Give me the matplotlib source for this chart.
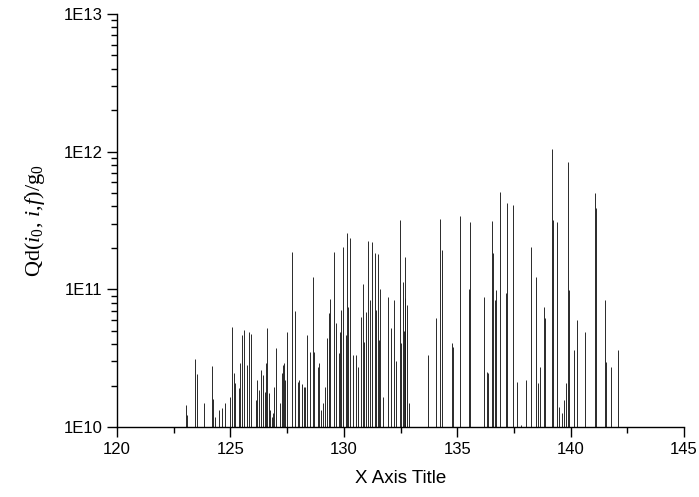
import matplotlib
matplotlib.use("Agg")
import matplotlib.pyplot as plt
from matplotlib.ticker import FixedLocator, FuncFormatter, LogLocator, NullFormatter, MultipleLocator

# Stick spectrum: positions and peak values (baseline 1E10)
positions = [
    123.04, 123.09, 123.44, 123.53, 123.84, 124.19, 124.23, 124.32, 124.50, 124.65,
    124.76, 124.98, 125.07, 125.16, 125.20, 125.38, 125.42, 125.49, 125.60, 125.71,
    125.84, 125.91, 126.13, 126.17, 126.26, 126.35, 126.44, 126.53, 126.57, 126.63,
    126.70, 126.75, 126.83, 126.88, 126.92, 127.01, 127.19, 127.28, 127.32, 127.36,
    127.41, 127.50, 127.70, 127.87, 127.98, 128.02, 128.16, 128.25, 128.29, 128.38,
    128.51, 128.62, 128.69, 128.86, 128.91, 128.99, 129.08, 129.17, 129.26, 129.35,
    129.39, 129.57, 129.66, 129.79, 129.83, 129.88, 129.96, 130.10, 130.14, 130.19,
    130.27, 130.41, 130.54, 130.63, 130.76, 130.85, 130.89, 130.98, 131.07, 131.16,
    131.24, 131.36, 131.40, 131.51, 131.53, 131.60, 131.73, 131.95, 132.08, 132.21,
    132.30, 132.48, 132.52, 132.61, 132.65, 132.70, 132.72, 132.79, 132.87,
    133.71, 134.07, 134.24, 134.33, 134.77, 134.81, 135.12, 135.52, 135.56,
    136.18, 136.31, 136.36, 136.53, 136.58, 136.67, 136.71, 136.89, 137.16, 137.20,
    137.46, 137.64, 137.81, 138.03, 138.25, 138.47, 138.56, 138.65, 138.83, 138.87,
    139.18, 139.22, 139.40, 139.49, 139.62, 139.71, 139.80, 139.89, 139.93,
    140.15, 140.28, 140.63, 141.08, 141.12, 141.52, 141.56, 141.78, 142.09,
]
values = [
    1.44e10, 1.22e10, 3.12e10, 2.43e10, 1.49e10, 2.77e10, 1.6e10, 1.18e10, 1.33e10, 1.37e10,
    1.49e10, 1.65e10, 5.32e10, 2.47e10, 2.09e10, 1.92e10, 2.92e10, 4.66e10, 5.06e10, 2.82e10,
    4.9e10, 4.7e10, 1.57e10, 2.19e10, 1.86e10, 2.59e10, 2.39e10, 1.8e10, 2.92e10, 5.24e10,
    1.77e10, 1.33e10, 1.18e10, 1.26e10, 1.95e10, 3.75e10, 1.49e10, 2.47e10, 2.82e10, 2.92e10,
    2.19e10, 4.9e10, 1.87e11, 6.96e10, 2.12e10, 2.19e10, 2.05e10, 1.95e10, 1.95e10, 4.66e10,
    3.5e10, 1.23e11, 3.5e10, 2.73e10, 2.92e10, 1.33e10, 1.49e10, 1.95e10, 4.43e10, 6.73e10,
    8.5e10, 1.87e11, 5.7e10, 3.45e10, 4.9e10, 7.07e10, 2.03e11, 4.66e10, 2.56e11, 7.4e10,
    2.36e11, 3.33e10, 3.33e10, 2.73e10, 6.29e10, 1.09e11, 4.14e10, 6.84e10, 2.24e11, 8.36e10,
    2.2e11, 1.84e11, 7.07e10, 1.8e11, 4.28e10, 1.0e11, 1.65e10, 8.79e10, 5.24e10, 8.36e10,
    3.0e10, 3.19e11, 4.07e10, 1.13e11, 5.0e10, 1.72e11, 8.65e10, 7.69e10, 1.49e10,
    3.33e10, 6.19e10, 3.24e11, 1.93e11, 4.07e10, 3.81e10, 3.41e11, 1.0e11, 3.08e11,
    8.79e10, 2.51e10, 2.47e10, 3.13e11, 1.84e11, 8.36e10, 9.9e10, 5.09e11, 9.4e10, 4.24e11,
    4.09e11, 2.12e10, 1.03e10, 2.19e10, 2.03e11, 1.23e11, 2.09e10, 2.73e10, 7.4e10, 6.19e10,
    1.04e12, 3.2e11, 3.08e11, 1.4e10, 1.26e10, 1.57e10, 2.09e10, 8.4e11, 9.9e10,
    3.62e10, 5.98e10, 4.9e10, 5.0e11, 3.89e11, 8.36e10, 2.96e10, 2.73e10, 3.62e10,
]
baseline = 1e10
y_ticks = [1e10, 1e11, 1e12, 1e13]
y_tick_labels = ["1E10", "1E11", "1E12", "1E13"]
x_ticks = [120, 125, 130, 135, 140, 145]

plt.rcParams['mathtext.fontset'] = 'custom'
plt.rcParams['mathtext.rm'] = 'Liberation Serif'
plt.rcParams['mathtext.it'] = 'Liberation Serif:italic'

fig = plt.figure(figsize=(6.99, 4.97), dpi=100)
ax = fig.add_axes([117/699, 70/497, (684-117)/699, (427-14)/497])

ax.vlines(positions, baseline, values, color='#1a1a1a', linewidth=0.65)

ax.set_yscale('log')
ax.set_xlim(120, 145)
ax.set_ylim(1e10, 1e13)

ax.yaxis.set_major_locator(FixedLocator(y_ticks))
ax.yaxis.set_major_formatter(FuncFormatter(lambda v, p: y_tick_labels[y_ticks.index(v)] if v in y_ticks else ""))
ax.yaxis.set_minor_locator(LogLocator(base=10, subs=range(2, 10), numticks=20))
ax.yaxis.set_minor_formatter(NullFormatter())
ax.xaxis.set_major_locator(FixedLocator(x_ticks))
ax.xaxis.set_minor_locator(MultipleLocator(2.5))

for s in ['top', 'right']:
    ax.spines[s].set_visible(False)
for s in ['left', 'bottom']:
    ax.spines[s].set_linewidth(1.0)

ax.tick_params(which='major', direction='out', length=7, width=1.0, labelsize=12)
ax.tick_params(which='minor', direction='out', length=4, width=1.0)
for lbl in ax.get_xticklabels() + ax.get_yticklabels():
    lbl.set_fontfamily('Liberation Sans')

ax.set_xlabel('X Axis Title', fontsize=13.5, fontfamily='Liberation Sans', labelpad=10)
ax.set_ylabel(r'$\mathrm{Qd}(i_0,\,i,\!f)/\mathrm{g}_0$', fontsize=16, labelpad=12)

fig.savefig('out.png', dpi=100)
